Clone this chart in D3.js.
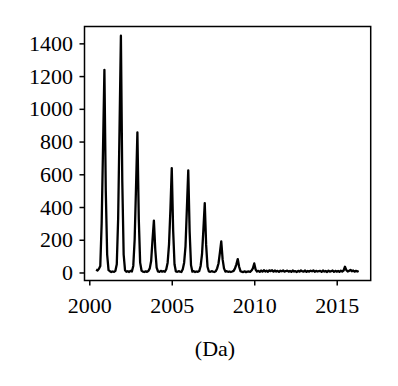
<!DOCTYPE html>
<html>
<head>
<meta charset="utf-8">
<script src="https://cdn.jsdelivr.net/npm/d3@7"></script>
<style>
  body { margin: 0; background: #fff; }
  svg { display: block; }
</style>
</head>
<body>
<svg width="398" height="386"></svg>
<script>
// monthly counts, Jan..Dec (2000 starts in June, 2016 stops in May)
var y2000 = [18, 12, 22, 40, 300, 760, 1238];
var y2001 = [500, 110, 15, 8, 3, 6, 4, 10, 50, 330, 880, 1447];
var y2002 = [560, 110, 14, 4, 8, 3, 10, 6, 40, 200, 520, 856];
var y2003 = [330, 60, 12, 5, 3, 7, 4, 9, 25, 70, 200, 317];
var y2004 = [140, 30, 6, 4, 10, 5, 8, 4, 20, 60, 170, 380];
var y2005 = [638, 260, 50, 6, 4, 8, 5, 3, 20, 60, 160, 390];
var y2006 = [624, 250, 45, 5, 8, 3, 6, 4, 9, 40, 110, 260];
var y2007 = [424, 170, 35, 6, 4, 8, 5, 3, 7, 25, 55, 120];
var y2008 = [190, 80, 25, 5, 8, 4, 6, 3, 6, 10, 25, 50];
var y2009 = [82, 35, 8, 4, 3, 7, 2, 5, 6, 4, 12, 25];
var y2010 = [55, 18, 6, 10, 4, 12, 5, 14, 6, 11, 4, 13];
var y2011 = [8, 14, 5, 12, 6, 10, 4, 11, 7, 13, 5, 9];
var y2012 = [11, 5, 9, 4, 12, 6, 8, 3, 10, 5, 13, 7];
var y2013 = [6, 12, 4, 9, 5, 11, 7, 13, 4, 10, 6, 8];
var y2014 = [10, 4, 12, 6, 9, 3, 11, 5, 8, 12, 4, 10];
var y2015 = [5, 9, 4, 11, 6, 12, 35, 14, 6, 10, 16, 7];
var y2016 = [12, 5, 10, 6, 9];

var years    = [2000, 2001, 2002, 2003, 2004, 2005, 2006, 2007, 2008, 2009, 2010, 2011, 2012, 2013, 2014, 2015, 2016];
var byYear   = [y2000, y2001, y2002, y2003, y2004, y2005, y2006, y2007, y2008, y2009, y2010, y2011, y2012, y2013, y2014, y2015, y2016];
var xTicks   = [2000, 2005, 2010, 2015];
var yTicks   = [0, 200, 400, 600, 800, 1000, 1200, 1400];
var xLabel   = "(Da)";

var data = [];
years.forEach(function (yr, k) {
  var vals = byYear[k];
  var first = yr === 2000 ? 12 - vals.length : 0;
  vals.forEach(function (v, i) {
    data.push({ t: yr + (first + i) / 12, v: v });
  });
});

var svg = d3.select("svg");
var font = "'Liberation Serif', 'DejaVu Serif', serif";

// plot box
var box = { left: 84.5, right: 370.7, top: 26.5, bottom: 280.5 };

var x = d3.scaleLinear().domain([1999.71, 2017.06]).range([box.left, box.right]);
var y = d3.scaleLinear().domain([-49, 1503]).range([box.bottom, box.top]);

// y axis
var gy = svg.append("g")
    .attr("transform", "translate(" + box.left + ",0)")
    .call(d3.axisLeft(y).tickValues(yTicks).tickSize(5).tickPadding(6.5).tickFormat(d3.format("d")));
gy.select(".domain").remove();

// x axis
var gx = svg.append("g")
    .attr("transform", "translate(0," + box.bottom + ")")
    .call(d3.axisBottom(x).tickValues(xTicks).tickSize(5).tickPadding(12).tickFormat(d3.format("d")));
gx.select(".domain").remove();

svg.selectAll(".tick line").attr("stroke", "#000").attr("stroke-width", 1.5);
svg.selectAll(".tick text")
    .attr("font-family", font)
    .attr("font-size", 22)
    .attr("fill", "#000");
gx.selectAll(".tick text").attr("dy", "0.71em");

// series
var line = d3.line()
    .x(function (d) { return x(d.t); })
    .y(function (d) { return y(d.v); });

svg.append("path")
    .datum(data)
    .attr("d", line)
    .attr("fill", "none")
    .attr("stroke", "#000")
    .attr("stroke-width", 2.3)
    .attr("stroke-linejoin", "round");

// frame
svg.append("rect")
    .attr("x", box.left)
    .attr("y", box.top)
    .attr("width", box.right - box.left)
    .attr("height", box.bottom - box.top)
    .attr("fill", "none")
    .attr("stroke", "#000")
    .attr("stroke-width", 1.5);

svg.append("text")
    .attr("x", 215)
    .attr("y", 356)
    .attr("text-anchor", "middle")
    .attr("font-family", font)
    .attr("font-size", 22)
    .attr("fill", "#000")
    .text(xLabel);
</script>
</body>
</html>
